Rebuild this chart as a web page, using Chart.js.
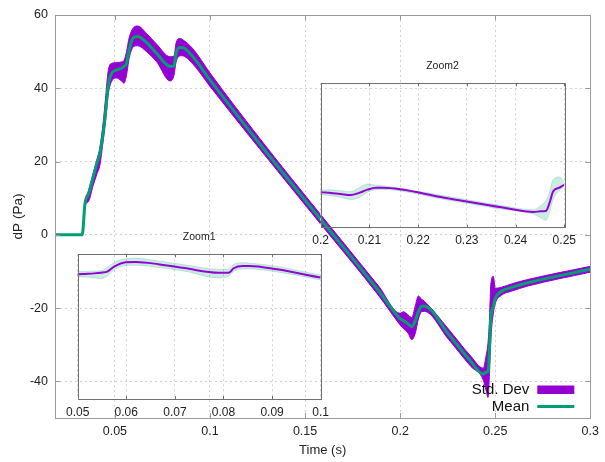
<!DOCTYPE html>
<html>
<head>
<meta charset="utf-8">
<script src="https://cdn.jsdelivr.net/npm/chart.js@4.4.1/dist/chart.umd.min.js"></script>
<style>
  html, body { margin: 0; padding: 0; background: #fff; }
  #wrap { position: relative; width: 605px; height: 462px; }
  canvas { position: absolute; }
  #mainChart { left: 0; top: 0; }
  #zoom1Chart { left: 60px; top: 225px; }
  #zoom2Chart { left: 305px; top: 55px; }
</style>
</head>
<body>
<div id="wrap">
  <canvas id="mainChart" width="605" height="462"></canvas>
  <canvas id="zoom1Chart" width="280" height="200"></canvas>
  <canvas id="zoom2Chart" width="280" height="200"></canvas>
</div>
<script>
// data
const timeValues = [0.0185, 0.0328, 0.0343, 0.0360, 0.0386, 0.0405, 0.0421, 0.0438, 0.0452, 0.0464,
                    0.0482, 0.0510, 0.0534, 0.0548, 0.0561, 0.0575, 0.0599, 0.0620, 0.0666, 0.0720,
                    0.0790, 0.0811, 0.0821, 0.0840, 0.0852, 0.0910, 0.1000, 0.1259, 0.1573, 0.1887,
                    0.2000, 0.2017, 0.2041, 0.2061, 0.2079, 0.2096, 0.2113, 0.2127, 0.2254, 0.2371,
                    0.2437, 0.2452, 0.2462, 0.2469, 0.2477, 0.2490, 0.2500, 0.2533, 0.2585, 0.2671, 0.3000];
const meanValues = [0, 0, 8.7, 11.0, 15.9, 19.5, 22.3, 27.8, 34.1, 40.4,
                    44.0, 45.0, 45.5, 46.0, 46.8, 50.6, 53.9, 54.1, 52.5, 49.5,
                    46.0, 46.0, 49.4, 51.1, 51.1, 48.6, 42.3, 25.0, 4.8, -15.3,
                    -22.9, -23.4, -24.3, -25.1, -23.5, -21.0, -19.5, -19.5, -27.1, -34.5,
                    -38.0, -37.5, -37.3, -31.9, -22.5, -19.5, -17.4, -15.4, -14.4, -13.1, -9.4];
const lowValues  = [0, 0, 8.0, 9.0, 13.5, 16.5, 19.0, 25.5, 31.5, 38.0,
                    41.8, 42.8, 42.0, 41.4, 43.5, 48.2, 51.4, 51.6, 50.0, 47.2,
                    42.0, 43.6, 47.0, 48.8, 48.9, 46.6, 40.5, 23.6, 3.5, -16.6,
                    -24.6, -25.6, -26.8, -28.6, -27.0, -23.0, -21.0, -20.9, -28.5, -35.9,
                    -39.6, -42.5, -44.4, -39.0, -28.5, -21.5, -18.8, -16.5, -15.4, -14.0, -10.2];
const highValues = [0, 0, 9.2, 11.8, 16.8, 20.5, 23.8, 30.5, 38.0, 44.5,
                    46.8, 47.0, 47.2, 47.6, 50.0, 53.8, 56.6, 57.0, 55.0, 52.0,
                    48.6, 48.8, 52.2, 53.6, 53.4, 50.8, 44.2, 26.5, 6.1, -14.0,
                    -21.4, -21.0, -21.8, -22.6, -19.5, -16.7, -17.6, -18.1, -25.7, -33.1,
                    -36.4, -33.0, -29.5, -24.0, -13.5, -11.3, -14.6, -14.3, -13.4, -12.2, -8.6];

const yTicks = [-40, -20, 0, 20, 40, 60];
const mainXTicks = [0.05, 0.1, 0.15, 0.2, 0.25, 0.3];
const zoom1XTicks = [0.05, 0.06, 0.07, 0.08, 0.09, 0.1];
const zoom2XTicks = [0.2, 0.21, 0.22, 0.23, 0.24, 0.25];
const legendNames = ['Std. Dev', 'Mean'];

const PURPLE = '#9400D3';
const TEAL = '#009E73';
const LIGHT_TEAL = 'rgba(0, 158, 115, 0.2)';
const FONT = '"Liberation Sans", Arial, sans-serif';
const GRID = '#d2d2d2';

function toPoints(vals) {
    return timeValues.map((t, i) => ({ x: t, y: vals[i] }));
}

// box round the plot, inward ticks on it, optional title above it
const framePlugin = {
    id: 'frame',
    afterDraw(chart, args, opts) {
        const { ctx, chartArea: a, scales } = chart;
        const tl = opts.tickLength || 4;
        ctx.save();
        ctx.strokeStyle = opts.color || '#999';
        ctx.lineWidth = 1;
        ctx.beginPath();
        scales.x.ticks.forEach(t => {
            const px = Math.round(scales.x.getPixelForValue(t.value)) + 0.5;
            ctx.moveTo(px, a.bottom); ctx.lineTo(px, a.bottom - tl);
            ctx.moveTo(px, a.top); ctx.lineTo(px, a.top + tl);
        });
        if (scales.y.options.display) {
            scales.y.ticks.forEach(t => {
                const py = Math.round(scales.y.getPixelForValue(t.value)) + 0.5;
                ctx.moveTo(a.left, py); ctx.lineTo(a.left + tl, py);
                ctx.moveTo(a.right, py); ctx.lineTo(a.right - tl, py);
            });
        }
        ctx.stroke();
        ctx.strokeRect(Math.round(a.left) + 0.5, Math.round(a.top) + 0.5,
                       Math.round(a.right - a.left), Math.round(a.bottom - a.top));
        if (opts.title) {
            ctx.fillStyle = '#222';
            ctx.font = '10.5px ' + FONT;
            ctx.textAlign = 'center';
            ctx.textBaseline = 'middle';
            ctx.fillText(opts.title, (a.left + a.right) / 2, a.top - 17.5);
        }
        ctx.restore();
    }
};

// gnuplot style key: text on the left, sample on the right
const keyPlugin = {
    id: 'key',
    afterDraw(chart) {
        const ctx = chart.ctx;
        const a = chart.chartArea;
        const ds = chart.data.datasets;
        const x1 = a.right - 53, x2 = a.right - 16;
        ctx.save();
        ctx.font = '15px ' + FONT;
        ctx.fillStyle = '#111';
        ctx.textAlign = 'right';
        ctx.textBaseline = 'middle';
        ctx.fillText(legendNames[0], x1 - 8, 390);
        ctx.fillText(legendNames[1], x1 - 8, 406.5);
        ctx.fillStyle = ds[1].backgroundColor;
        ctx.fillRect(x1, 385.5, x2 - x1, 8.5);
        ctx.strokeStyle = ds[2].borderColor;
        ctx.lineWidth = 3;
        ctx.beginPath();
        ctx.moveTo(x1, 406.5);
        ctx.lineTo(x2, 406.5);
        ctx.stroke();
        ctx.restore();
    }
};

function bandSets(bandColor, lineColor, lineWidth) {
    return [
        { label: legendNames[0], data: toPoints(highValues), borderColor: bandColor, backgroundColor: bandColor,
          borderWidth: 1, pointRadius: 0, fill: false, order: 1, cubicInterpolationMode: 'monotone' },
        { label: legendNames[0], data: toPoints(lowValues), borderColor: bandColor, backgroundColor: bandColor,
          borderWidth: 1, pointRadius: 0, fill: '-1', order: 1, cubicInterpolationMode: 'monotone' },
        { label: legendNames[1], data: toPoints(meanValues), borderColor: lineColor,
          borderWidth: lineWidth, pointRadius: 0, fill: false, order: 0, cubicInterpolationMode: 'monotone' }
    ];
}

document.addEventListener('DOMContentLoaded', function() {

    // 1. MAIN PLOT
    new Chart(document.getElementById('mainChart'), {
        type: 'line',
        data: { datasets: bandSets(PURPLE, TEAL, 3) },
        options: {
            responsive: false, animation: false,
            layout: { padding: { top: 15, right: 10, left: 0, bottom: 0 } },
            plugins: {
                legend: { display: false }, tooltip: { enabled: false },
                frame: { color: '#9a9a9a', tickLength: 5 }
            },
            scales: {
                x: {
                    type: 'linear', min: 0.0185, max: 0.3,
                    afterBuildTicks: s => { s.ticks = mainXTicks.map(v => ({ value: v })); },
                    afterFit: s => { s.height = 44; },
                    grid: { color: GRID, drawTicks: false },
                    border: { display: false, dash: [2, 3] },
                    ticks: { padding: 6, color: '#222', font: { family: FONT, size: 12.5 }, maxRotation: 0,
                             callback: v => String(v) },
                    title: { display: true, text: 'Time (s)', color: '#222',
                             font: { family: FONT, size: 13 }, padding: { top: 0, bottom: 4 } }
                },
                y: {
                    min: -50, max: 60,
                    afterBuildTicks: s => { s.ticks = yTicks.map(v => ({ value: v })); },
                    afterFit: s => { s.width = 55; },
                    grid: { color: GRID, drawTicks: false },
                    border: { display: false, dash: [2, 3] },
                    ticks: { padding: 7, color: '#222', font: { family: FONT, size: 12.5 },
                             callback: v => String(v) },
                    title: { display: true, text: 'dP (Pa)', color: '#222',
                             font: { family: FONT, size: 13.5 }, padding: { top: 10, bottom: 0 } }
                }
            }
        },
        plugins: [framePlugin, keyPlugin]
    });

    // 2. ZOOM INSETS (same y range, narrower x range)
    function renderZoom(canvasId, ticks, title, pad, xHeight) {
        new Chart(document.getElementById(canvasId), {
            type: 'line',
            data: { datasets: bandSets(LIGHT_TEAL, PURPLE, 2) },
            options: {
                responsive: false, animation: false,
                layout: { padding: pad },
                plugins: {
                    legend: { display: false }, tooltip: { enabled: false },
                    frame: { color: '#707070', title: title, tickLength: 3 }
                },
                scales: {
                    x: {
                        type: 'linear', min: ticks[0], max: ticks[ticks.length - 1],
                        afterBuildTicks: s => { s.ticks = ticks.map(v => ({ value: v })); },
                        afterFit: s => { s.height = xHeight; },
                        grid: { color: GRID, drawTicks: false },
                        border: { display: false, dash: [2, 3] },
                        ticks: { padding: 6, color: '#222', font: { family: FONT, size: 12 }, maxRotation: 0,
                                 callback: v => String(v) }
                    },
                    y: { display: false, min: -50, max: 60 }
                }
            },
            plugins: [framePlugin]
        });
    }

    renderZoom('zoom1Chart', zoom1XTicks, 'Zoom1', { left: 16.7, right: 19.3, top: 29.3, bottom: 0 }, 26);
    renderZoom('zoom2Chart', zoom2XTicks, 'Zoom2', { left: 15.7, right: 20.7, top: 28.3, bottom: 0 }, 27.3);
});
</script>
</body>
</html>
